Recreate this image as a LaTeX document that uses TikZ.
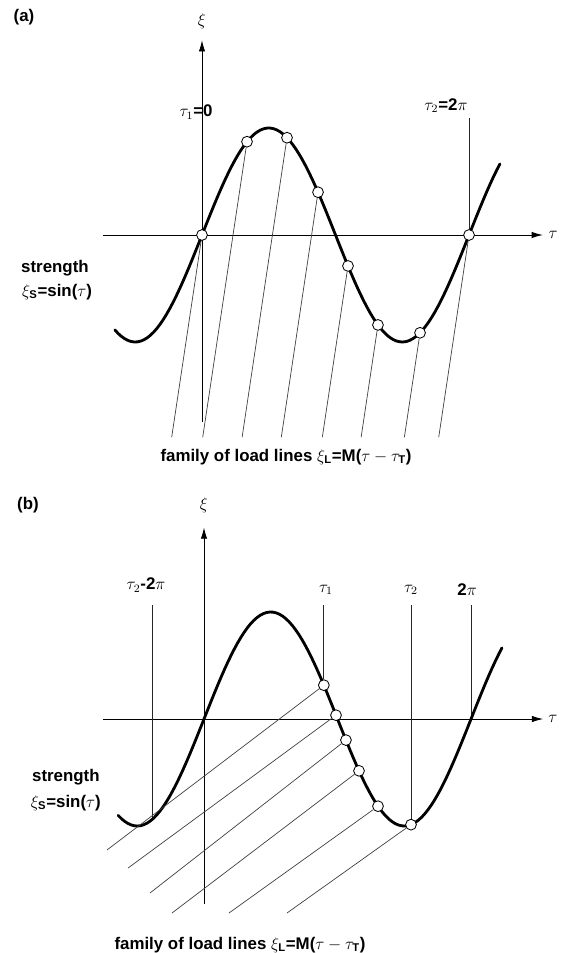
\documentclass[tikz,border=0pt]{standalone}
\usepackage{amsmath}
\usepackage{fontspec}
\setmainfont{Liberation Sans}
\usepackage{tikz}
\usetikzlibrary{arrows.meta}
\usetikzlibrary{calc}

\tikzset{
  asse/.style={line width=0.6pt, -{Latex[length=2.8mm,width=1.6mm]}},
  resistenza/.style={line width=2pt, line cap=round},
  carico/.style={line width=0.5pt, black!75},
  riferimento/.style={line width=0.6pt, black!85},
  punto/.style={circle, draw, fill=white, line width=0.6pt, inner sep=0pt, minimum size=2.7mm},
  testo/.style={font=\fontsize{12}{14}\selectfont\bfseries, inner sep=0pt},
}

\begin{document}
\begin{tikzpicture}[>=latex]
    \useasboundingbox (0,0) rectangle (14.225,-23.825);

    % === Parametri ===
    \def\tauunit{1.0625}  % cm per radiante
    \def\xiunit{2.675}    % cm per unita' di xi
    \def\Ma{2.65}         % pendenza rette di carico (a)

    % === (a) ===
    \node[testo] (lbla) at (0.6,-0.425) {(a)};
    \begin{scope}[shift={(5.05,-5.875)}, x=\tauunit cm, y=\xiunit cm]
        % Assi
        \coordinate (a-tl) at (-2.33,0);
        \coordinate (a-tr) at (8.02,0);
        \coordinate (a-xb) at (0,-1.75);
        \coordinate (a-xt) at (0,1.82);
        \draw[asse] (a-tl) -- (a-tr);
        \draw[asse] (a-xb) -- (a-xt);
        \node[testo, font=\fontsize{12}{14}\selectfont] (a-xi) at (0,2.0) {$\xi$};
        \node[testo, font=\fontsize{12}{14}\selectfont] (a-tau) at (8.26,0) {$\tau$};

        % Curva di resistenza
        \draw[resistenza] plot[domain=-2.05:7.01, samples=120] (\x,{sin(\x r)});

        % Punti e rette di carico
        \foreach \tc [count=\i] in {0,1.059,2.0,2.73,3.435,4.14,5.13,6.2832} {
            \pgfmathsetmacro{\sc}{sin(\tc r)}
            \pgfmathsetmacro{\te}{\tc-(\sc+1.89)/\Ma}
            \node[punto] (a-p\i) at (\tc,\sc) {};
            \coordinate (a-e\i) at (\te,-1.89);
            \draw[carico] (a-p\i) -- (a-e\i);
        }

        % Riferimento tau_2
        \coordinate (a-t2) at (6.2832,1.09);
        \draw[riferimento] (a-t2) -- (a-p8);

        % Etichette
        \node[testo] (a-tau1) at (-0.14,1.15) {$\tau_{1}$=0};
        \node[testo] (a-tau2) at (5.74,1.21) {$\tau_{2}$=2$\pi$};
        \node[testo] (a-str) at (-3.46,-0.31) {strength};
        \node[testo] (a-sin) at (-3.41,-0.53) {$\xi_{\text{S}}$=sin($\tau$)};
    \end{scope}
    \node[testo] (a-fam) at (7.15,-11.425) {family of load lines $\xi_{\text{L}}$=M($\tau-\tau_{\text{T}}$)};

    % === (b) ===
    \node[testo] (lblb) at (0.7,-12.625) {(b)};
    \begin{scope}[shift={(5.1,-17.975)}, x=\tauunit cm, y=\xiunit cm]
        % Assi
        \coordinate (b-tl) at (-2.376,0);
        \coordinate (b-tr) at (7.98,0);
        \coordinate (b-xb) at (0,-1.73);
        \coordinate (b-xt) at (0,1.79);
        \draw[asse] (b-tl) -- (b-tr);
        \draw[asse] (b-xb) -- (b-xt);
        \node[testo, font=\fontsize{12}{14}\selectfont] (b-xi) at (0,2.0) {$\xi$};
        \node[testo, font=\fontsize{12}{14}\selectfont] (b-tau) at (8.21,0) {$\tau$};

        % Riferimenti verticali
        \coordinate (b-r0t) at (-1.22,1.065);
        \coordinate (b-r0b) at (-1.22,{sin(-1.22 r)});
        \coordinate (b-r1t) at (2.82,1.065);
        \coordinate (b-r2t) at (4.87,1.065);
        \coordinate (b-r3t) at (6.2832,1.065);
        \coordinate (b-r3b) at (6.2832,0);
        \draw[riferimento] (b-r0t) -- (b-r0b);
        \draw[riferimento] (b-r3t) -- (b-r3b);

        % Curva di resistenza
        \draw[resistenza] plot[domain=-2.02:7.01, samples=120] (\x,{sin(\x r)});

        % Punti e rette di carico
        \foreach \tc/\ex/\ey [count=\i] in {2.82/-2.282/-1.224, 3.106/-1.788/-1.393,
                3.34/-1.271/-1.626, 3.647/-0.753/-1.813, 4.094/0.588/-1.813, 4.87/1.953/-1.813} {
            \pgfmathsetmacro{\sc}{sin(\tc r)}
            \node[punto] (b-p\i) at (\tc,\sc) {};
            \coordinate (b-e\i) at (\ex,\ey);
            \draw[carico] (b-p\i) -- (b-e\i);
        }
        \draw[riferimento] (b-r1t) -- (b-p1);
        \draw[riferimento] (b-r2t) -- (b-p6);

        % Etichette
        \node[testo] (b-lt0) at (-1.365,1.252) {$\tau_{2}$-2$\pi$};
        \node[testo] (b-lt1) at (2.87,1.206) {$\tau_{1}$};
        \node[testo] (b-lt2) at (4.87,1.206) {$\tau_{2}$};
        \node[testo] (b-lt3) at (6.19,1.206) {2$\pi$};
        \node[testo] (b-str) at (-3.25,-0.54) {strength};
        \node[testo] (b-sin) at (-3.25,-0.785) {$\xi_{\text{S}}$=sin($\tau$)};
    \end{scope}
    \node[testo] (b-fam) at (6.0,-23.625) {family of load lines $\xi_{\text{L}}$=M($\tau-\tau_{\text{T}}$)};

\end{tikzpicture}
\end{document}
